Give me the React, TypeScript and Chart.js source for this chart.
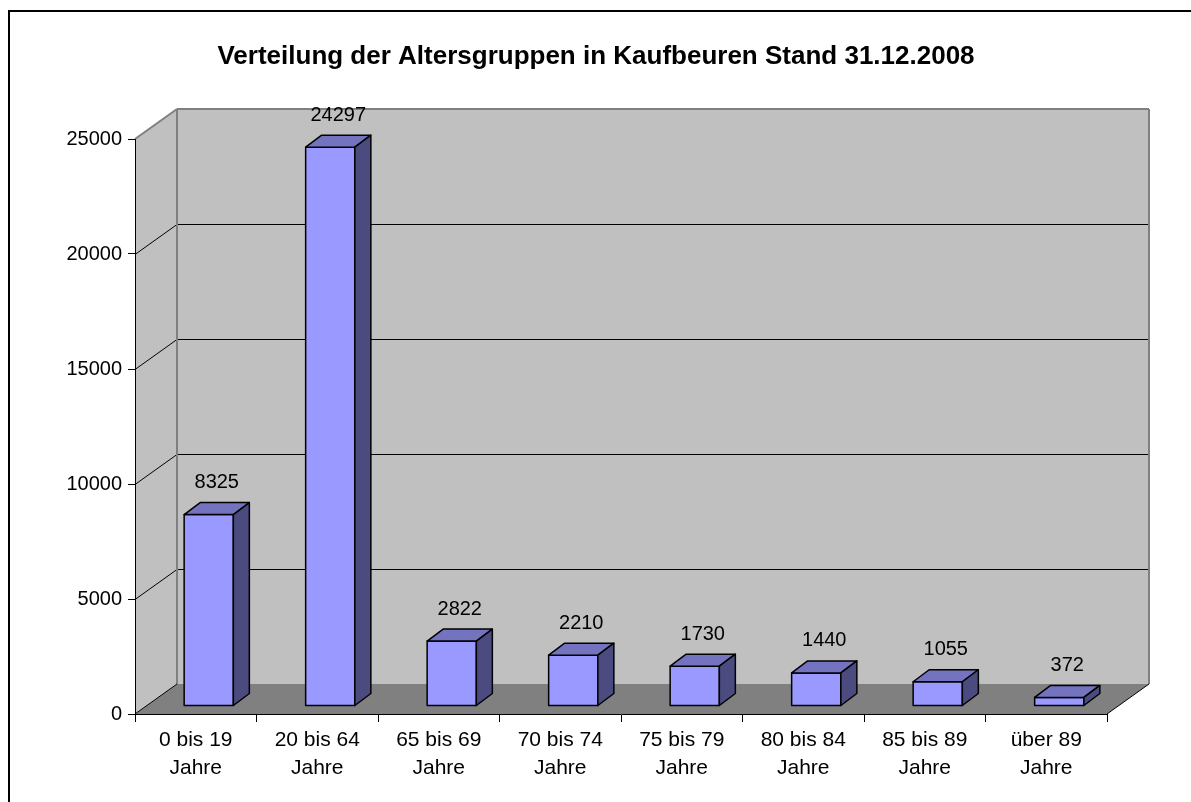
import React, { useEffect, useRef } from "react";
import { Chart, registerables } from "chart.js";

Chart.register(...registerables);

const chartTitle = "Verteilung der Altersgruppen in Kaufbeuren Stand 31.12.2008";
const categories: string[][] = [
  ["0 bis 19", "Jahre"],
  ["20 bis 64", "Jahre"],
  ["65 bis 69", "Jahre"],
  ["70 bis 74", "Jahre"],
  ["75 bis 79", "Jahre"],
  ["80 bis 84", "Jahre"],
  ["85 bis 89", "Jahre"],
  ["über 89", "Jahre"],
];
const values: number[] = [8325, 24297, 2822, 2210, 1730, 1440, 1055, 372];
const yTickValues: number[] = [0, 5000, 10000, 15000, 20000, 25000];

const FONT = "'Liberation Sans', Arial, sans-serif";
const WALL_DEPTH = { dx: 42, dy: -30 };
const BAR_OFFSET = { dx: 13, dy: -8 };
const BAR_DEPTH = { dx: 16, dy: -12 };

const COLORS = {
  wall: "#C0C0C0",
  wallEdge: "#808080",
  floor: "#808080",
  front: "#9999FF",
  top: "#7373C0",
  side: "#4B4B80",
  grid: "#000000",
};

function poly(ctx: CanvasRenderingContext2D, pts: number[][], fill: string | null, stroke: string | null, lw = 1) {
  ctx.beginPath();
  ctx.moveTo(pts[0][0], pts[0][1]);
  for (let i = 1; i < pts.length; i++) ctx.lineTo(pts[i][0], pts[i][1]);
  ctx.closePath();
  if (fill) {
    ctx.fillStyle = fill;
    ctx.fill();
  }
  if (stroke) {
    ctx.strokeStyle = stroke;
    ctx.lineWidth = lw;
    ctx.stroke();
  }
}

function line(ctx: CanvasRenderingContext2D, x1: number, y1: number, x2: number, y2: number, color: string, lw = 1) {
  ctx.beginPath();
  ctx.moveTo(x1, y1);
  ctx.lineTo(x2, y2);
  ctx.strokeStyle = color;
  ctx.lineWidth = lw;
  ctx.stroke();
}

const threeDPlugin = {
  id: "threeD",
  beforeDraw(chart: any) {
    const ctx: CanvasRenderingContext2D = chart.ctx;
    const xs = chart.scales.x;
    const ys = chart.scales.y;
    const L = xs.left;
    const R = xs.right;
    const y0 = ys.getPixelForValue(yTickValues[0]);
    const yMax = ys.getPixelForValue(yTickValues[yTickValues.length - 1]);
    const { dx, dy } = WALL_DEPTH;
    ctx.save();
    poly(ctx, [[L + dx, yMax + dy], [R + dx, yMax + dy], [R + dx, y0 + dy], [L + dx, y0 + dy]], COLORS.wall, null);
    poly(ctx, [[L, yMax], [L + dx, yMax + dy], [L + dx, y0 + dy], [L, y0]], COLORS.wall, null);
    poly(ctx, [[L, y0], [L + dx, y0 + dy], [R + dx, y0 + dy], [R, y0]], COLORS.floor, null);
    for (let i = 1; i < yTickValues.length - 1; i++) {
      const y = Math.round(ys.getPixelForValue(yTickValues[i])) + 0.5;
      line(ctx, L, y, L + dx, y + dy, COLORS.grid, 1);
      line(ctx, L + dx, y + dy, R + dx, y + dy, COLORS.grid, 1);
    }
    line(ctx, L, yMax, L + dx, yMax + dy, COLORS.wallEdge, 2);
    line(ctx, L + dx, yMax + dy, R + dx, yMax + dy, COLORS.wallEdge, 2);
    line(ctx, R + dx, yMax + dy, R + dx, y0 + dy, COLORS.wallEdge, 2);
    line(ctx, L + dx, yMax + dy, L + dx, y0 + dy, COLORS.wallEdge, 2);
    line(ctx, L, y0, L + dx, y0 + dy, "#000", 1);
    line(ctx, R, y0, R + dx, y0 + dy, "#000", 1);
    ctx.restore();
  },
  afterDatasetsDraw(chart: any) {
    const ctx: CanvasRenderingContext2D = chart.ctx;
    const meta = chart.getDatasetMeta(0);
    ctx.save();
    ctx.lineJoin = "round";
    meta.data.forEach((bar: any, i: number) => {
      const half = bar.width / 2;
      const x1 = bar.x - half + BAR_OFFSET.dx;
      const x2 = bar.x + half + BAR_OFFSET.dx;
      const yt = bar.y + BAR_OFFSET.dy;
      const yb = bar.base + BAR_OFFSET.dy;
      const { dx, dy } = BAR_DEPTH;
      poly(ctx, [[x1, yt], [x2, yt], [x2, yb], [x1, yb]], COLORS.front, "#000", 1.5);
      poly(ctx, [[x1, yt], [x1 + dx, yt + dy], [x2 + dx, yt + dy], [x2, yt]], COLORS.top, "#000", 1.5);
      poly(ctx, [[x2, yt], [x2 + dx, yt + dy], [x2 + dx, yb + dy], [x2, yb]], COLORS.side, "#000", 1.5);
      ctx.fillStyle = "#000";
      ctx.font = `20px ${FONT}`;
      ctx.textAlign = "center";
      ctx.textBaseline = "middle";
      ctx.fillText(String(values[i]), bar.x + BAR_OFFSET.dx + dx / 2, yt + dy - 20);
    });
    ctx.restore();
  },
  afterDraw(chart: any) {
    const ctx: CanvasRenderingContext2D = chart.ctx;
    ctx.save();
    ctx.fillStyle = "#000";
    ctx.font = `bold 26px ${FONT}`;
    ctx.textAlign = "center";
    ctx.textBaseline = "middle";
    ctx.fillText(chartTitle, 596, 57);
    ctx.strokeStyle = "#000";
    ctx.lineWidth = 2;
    ctx.beginPath();
    ctx.moveTo(9, 900);
    ctx.lineTo(9, 11);
    ctx.lineTo(1300, 11);
    ctx.stroke();
    ctx.restore();
  },
};

export default function App() {
  const ref = useRef<HTMLCanvasElement | null>(null);
  useEffect(() => {
    document.body.style.margin = "0";
    document.body.style.overflow = "hidden";
    const canvas = ref.current!;
    const chart = new Chart(canvas, {
      type: "bar",
      data: {
        labels: categories,
        datasets: [
          {
            data: values,
            backgroundColor: "rgba(0,0,0,0)",
            borderWidth: 0,
            categoryPercentage: 1,
            barPercentage: 0.405,
          },
        ],
      },
      options: {
        responsive: false,
        animation: false,
        color: "#000",
        layout: { padding: { left: 0, right: 84, top: 139, bottom: 0 } },
        plugins: {
          legend: { display: false },
          tooltip: { enabled: false },
          title: { display: false },
        },
        scales: {
          x: {
            offset: true,
            grid: { offset: true, drawOnChartArea: false, drawTicks: true, tickLength: 8, color: "#000" },
            border: { display: true, color: "#000", width: 1 },
            ticks: { color: "#000", font: { family: FONT, size: 21, lineHeight: 1.35 }, padding: 4, maxRotation: 0, autoSkip: false },
            afterFit: (s: any) => {
              s.height = 88;
            },
          },
          y: {
            min: yTickValues[0],
            max: yTickValues[yTickValues.length - 1],
            grid: { drawOnChartArea: false, drawTicks: true, tickLength: 7, color: "#000" },
            border: { display: true, color: "#000", width: 1 },
            ticks: {
              stepSize: 5000,
              color: "#000",
              font: { family: FONT, size: 20 },
              padding: 6,
              callback: (v: any) => String(v),
            },
            afterFit: (s: any) => {
              s.width = 135;
            },
          },
        },
      },
      plugins: [threeDPlugin],
    });
    return () => chart.destroy();
  }, []);
  return <canvas ref={ref} width={1191} height={802} style={{ display: "block" }} />;
}
